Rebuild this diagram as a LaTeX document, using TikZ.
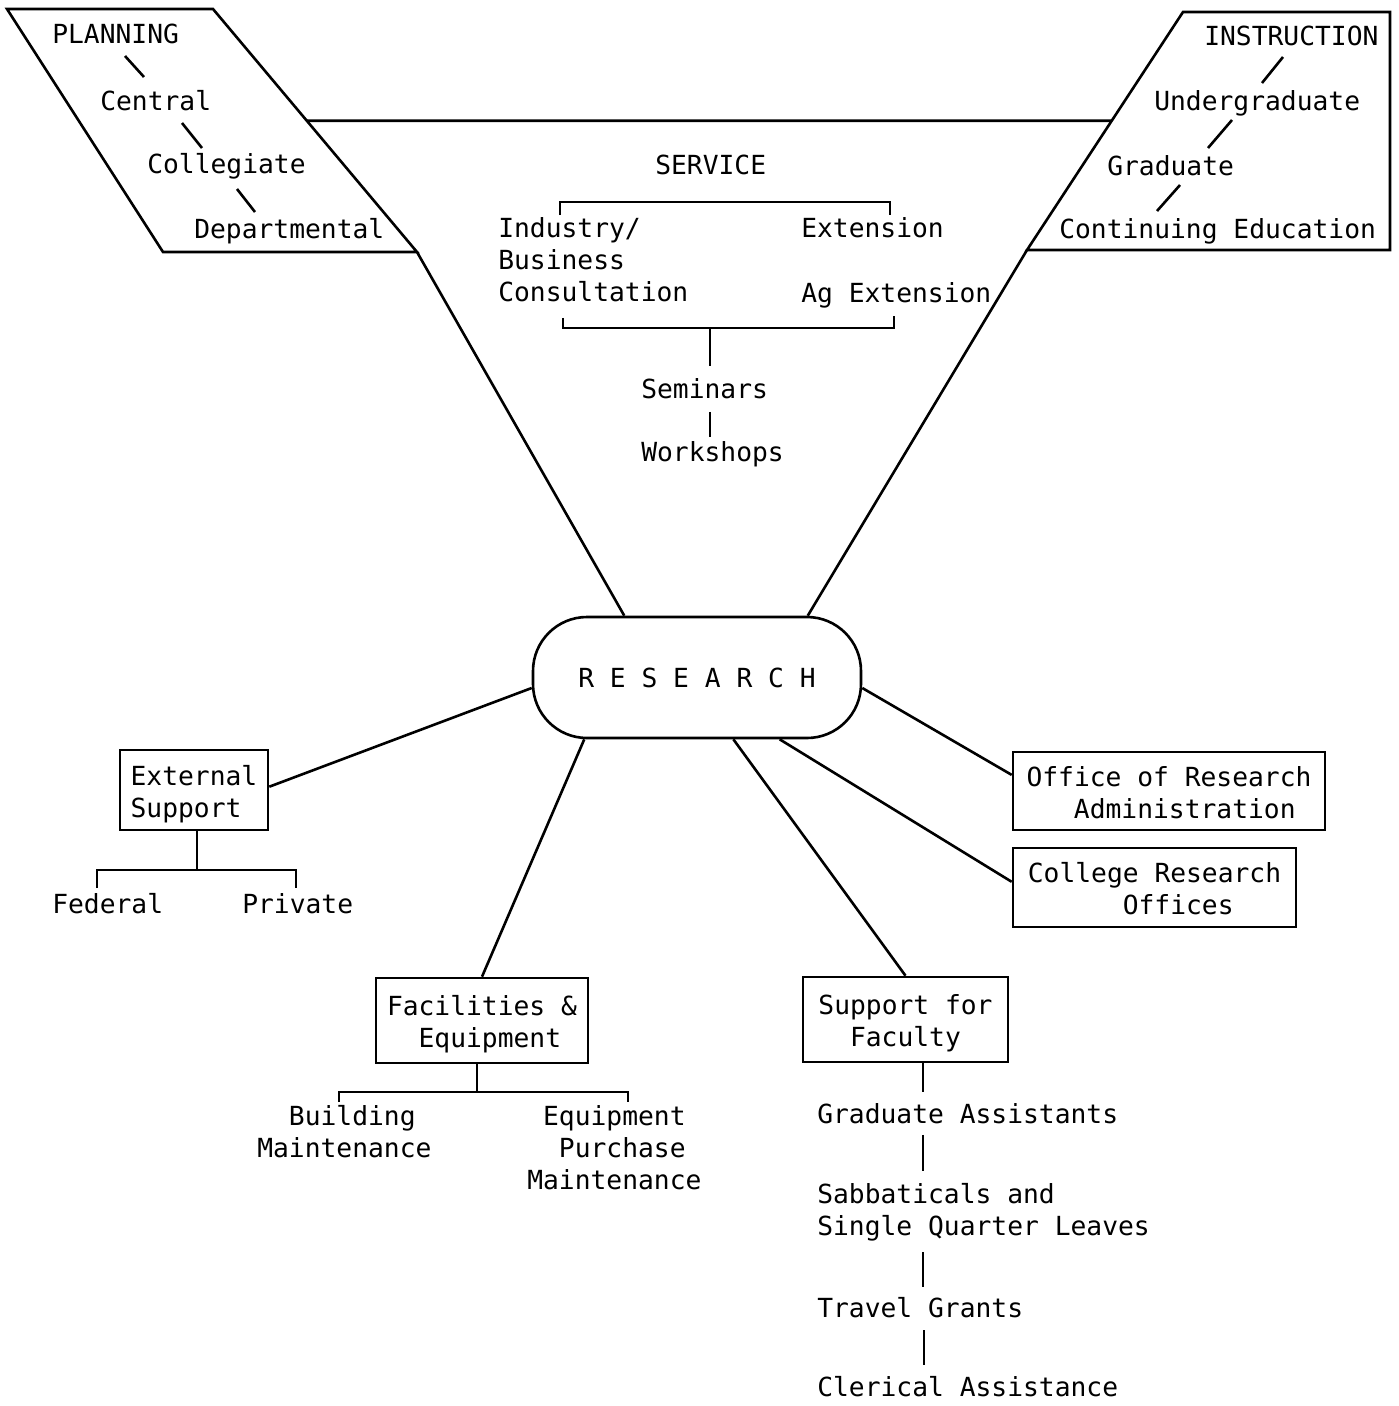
\documentclass[tikz,border=0pt]{standalone}
\usepackage{fontspec}
\newfontfamily\mono{DejaVu Sans Mono}
\usetikzlibrary{calc}
\newlength\cw
\setlength\cw{15.83pt}
\newcommand\ind[1]{\hspace*{#1\cw}}
\newcommand\fl{\rule{0pt}{20pt}}
\newcommand\btop{\rule{0pt}{28.5pt}}
\newcommand\bbot{\rule[-6.5pt]{0pt}{6.5pt}}
\begin{document}
\begin{tikzpicture}[x=1pt,y=-1pt,line width=2.6pt,
  font=\mono\fontsize{26.3}{32}\selectfont,
  txt/.style={anchor=north west,inner sep=0pt,align=left,yshift=2.5pt},
  boxnode/.style={draw,inner sep=0pt,align=left},
  link/.style={line width=2.6pt}]
\fill[white] (0,0) rectangle (1398,1406);
\useasboundingbox (0,0) rectangle (1398,1406);

% ---------- top shapes ----------
\coordinate (P1) at (7,9);
\coordinate (P2) at (213,9);
\coordinate (P3) at (417,252);
\coordinate (P4) at (163,252);
\draw (P1) -- (P2) -- (P3) -- (P4) -- cycle;
\coordinate (I1) at (1183,12);
\coordinate (I2) at (1390,12);
\coordinate (I3) at (1390,250);
\coordinate (I4) at (1027,250);
\draw (I1) -- (I2) -- (I3) -- (I4) -- cycle;

% ---------- RESEARCH ----------
\node[draw,rounded corners=54pt,minimum width=328pt,minimum height=121pt,inner sep=0pt] (R) at (697,677.5) {R E S E A R C H};

\draw[link] ($(P2)!0.46!(P3)$) -- ($(I1)!0.457!(I4)$);
\draw[link] (P3) -- ($(R.north west)!0.28!(R.north east)$);
\draw[link] (I4) -- ($(R.north west)!0.835!(R.north east)$);

% ---------- planning ----------
\node[txt] (pl)  at (51,25)  {\fl PLANNING};
\node[txt] (cen) at (99,92)  {\fl Central};
\node[txt] (clg) at (146,155) {\fl Collegiate};
\node[txt] (dep) at (193,220) {\fl Departmental};
\draw[link] ($(pl.north west)+(74,33.5)$) -- ($(cen.north west)+(45,-12.5)$);
\draw[link] ($(cen.north west)+(83,33.5)$) -- ($(clg.north west)+(56,-4.5)$);
\draw[link] ($(clg.north west)+(91,36.5)$) -- ($(dep.north west)+(62,-5.5)$);

% ---------- instruction ----------
\node[txt] (ins) at (1203,27)  {\fl INSTRUCTION};
\node[txt] (ug)  at (1153,92)  {\fl Undergraduate};
\node[txt] (gr)  at (1106,157) {\fl Graduate};
\node[txt] (ce)  at (1058,220) {\fl Continuing Education};
\draw[link] ($(ins.north west)+(80,32.5)$) -- ($(ug.north west)+(109,-6.5)$);
\draw[link] ($(ug.north west)+(79,30.5)$) -- ($(gr.north west)+(102,-6.5)$);
\draw[link] ($(gr.north west)+(74,30.5)$) -- ($(ce.north west)+(99,-6.5)$);

% ---------- service ----------
\node[txt] (svc)  at (654,156) {\fl SERVICE};
\node[txt] (ind)  at (497,219) {\fl Industry/\\Business\\Consultation};
\node[txt] (ext1) at (800,219) {\fl Extension};
\node[txt] (agx)  at (800,284) {\fl Ag Extension};
\node[txt] (sem)  at (640,380) {\fl Seminars};
\node[txt] (wks)  at (640,443) {\fl Workshops};
\draw[link] ($(ind.north west)+(63,-1.5)$) -- ++(0,-13) -| ($(ext1.north west)+(90,-1.5)$);
\draw[link] ($(ind.south west)+(66,14.5)$) |- ($(agx.north west)+(94,46.5)$) -- ($(agx.north west)+(94,34.5)$);
\draw[link] ($(sem.north west)+(70,-49.5)$) -- ($(sem.north west)+(70,-11.5)$);
\draw[link] ($(sem.south west)+(70,11.5)$) -- ($(wks.north west)+(70,-3.5)$);

% ---------- external support ----------
\node[boxnode,minimum width=148pt,minimum height=80pt] (ext) at (194,790) {\btop External\\Support\bbot};
\node[txt] (fed) at (51,895) {\fl Federal};
\node[txt] (pri) at (241,895) {\fl Private};
\draw[link] ($(ext.south)+(3,0)$) -- ($(ext.south)+(3,40)$);
\draw[link] ($(fed.north west)+(46,-4.5)$) |- ($(pri.north west)+(55,-22.5)$) -- ($(pri.north west)+(55,-4.5)$);
\draw[link] ($(R.west)+(0,10.5)$) -- ($(ext.north east)!0.46!(ext.south east)$);

% ---------- offices ----------
\node[boxnode,minimum width=312pt,minimum height=78pt] (ora) at (1169,791) {\btop Office of Research\\\ind{3}Administration\bbot};
\node[boxnode,minimum width=283pt,minimum height=79pt] (col) at (1154.5,887.5) {\btop College Research\\\ind{6}Offices\bbot};
\draw[link] ($(R.east)+(0,10.5)$) -- ($(ora.north west)!0.3!(ora.south west)$);
\draw[link] ($(R.south west)!0.75!(R.south east)$) -- ($(col.north west)!0.43!(col.south west)$);

% ---------- facilities ----------
\node[boxnode,minimum width=212pt,minimum height=85pt] (fac) at (482,1020.5) {\btop Facilities \&\\\ind{2}Equipment\bbot};
\node[txt] (bld) at (256,1107) {\fl\ind{2}Building\\Maintenance};
\node[txt] (eqp) at (526,1107) {\fl\ind{1}Equipment\\\ind{2}Purchase\\Maintenance};
\draw[link] ($(R.south west)!0.159!(R.south east)$) -- (fac.north);
\draw[link] ($(fac.south)+(-5,0)$) -- ($(fac.south)+(-5,29)$);
\draw[link] ($(bld.north west)+(83,-2.5)$) |- ($(eqp.north west)+(102,-12.5)$) -- ($(eqp.north west)+(102,-2.5)$);

% ---------- support for faculty ----------
\node[boxnode,minimum width=205pt,minimum height=85pt] (sff) at (905.5,1019.5) {\btop Support for\\\ind{2}Faculty\bbot};
\node[txt] (ga)  at (816,1105) {\fl Graduate Assistants};
\node[txt] (sab) at (816,1185) {\fl Sabbaticals and\\Single Quarter Leaves};
\node[txt] (tg)  at (816,1299) {\fl Travel Grants};
\node[txt] (cl)  at (816,1378) {\fl Clerical Assistance};
\draw[link] ($(R.south west)!0.61!(R.south east)$) -- (sff.north);
\draw[link] ($(sff.south)+(17.5,0)$) -- ($(ga.north west)+(107,-10.5)$);
\draw[link] ($(ga.south west)+(107,9.5)$) -- ($(sab.north west)+(107,-11.5)$);
\draw[link] ($(sab.north west)+(107,69.5)$) -- ($(tg.north west)+(107,-9.5)$);
\draw[link] ($(tg.south west)+(108,10.5)$) -- ($(cl.north west)+(108,-10.5)$);
\end{tikzpicture}
\end{document}
